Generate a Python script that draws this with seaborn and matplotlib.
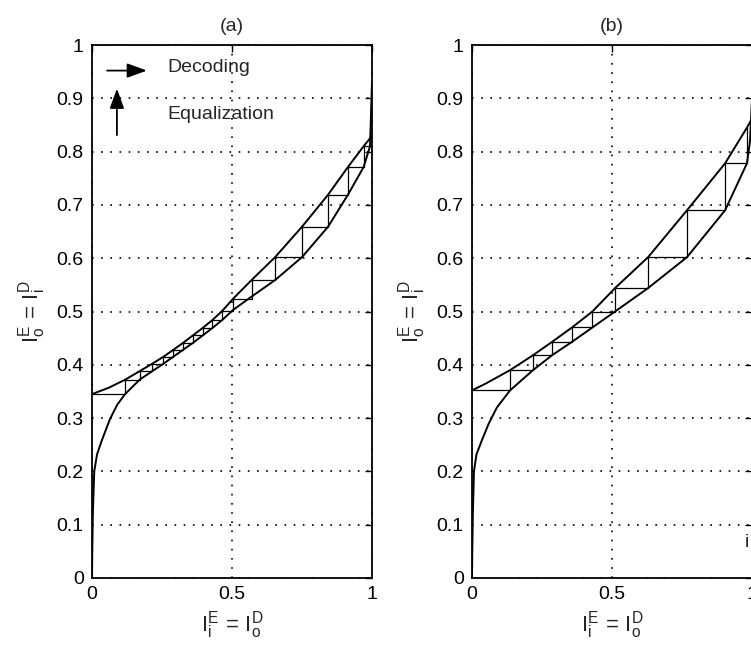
import numpy as np
import pandas as pd
import matplotlib
matplotlib.use("Agg")
import matplotlib.pyplot as plt
import seaborn as sns

# ---------------- data ----------------
# panel (a): equalizer curve (upper) and inverted decoder curve (lower)
upper_a_x = [0.0, 0.06, 0.118, 0.17, 0.215, 0.255, 0.29, 0.325, 0.36, 0.395, 0.43, 0.465, 0.504, 0.57, 0.654, 0.75, 0.843, 0.914, 0.97, 0.993, 1.0]
upper_a_y = [0.345, 0.357, 0.372, 0.388, 0.402, 0.415, 0.428, 0.441, 0.455, 0.469, 0.484, 0.501, 0.524, 0.559, 0.602, 0.659, 0.719, 0.771, 0.81, 0.825, 0.829]
lower_a_x = [0.0, 0.001, 0.003, 0.008, 0.018, 0.035, 0.064, 0.09, 0.118, 0.17, 0.215, 0.255, 0.29, 0.325, 0.36, 0.395, 0.43, 0.465, 0.504, 0.57, 0.654, 0.75, 0.843, 0.914, 0.97, 0.993, 0.997, 1.0]
lower_a_y = [0.0, 0.05, 0.12, 0.2, 0.232, 0.258, 0.298, 0.325, 0.345, 0.372, 0.388, 0.402, 0.415, 0.428, 0.441, 0.455, 0.469, 0.484, 0.503, 0.528, 0.559, 0.602, 0.659, 0.719, 0.771, 0.81, 0.88, 0.93]
# trajectory: x of each vertical step, and the mutual-information level before/after each step
steps_a_x = [0.118, 0.17, 0.215, 0.255, 0.29, 0.325, 0.36, 0.395, 0.43, 0.465, 0.504, 0.57, 0.654, 0.75, 0.843, 0.914, 0.97, 0.993]
levels_a = [0.345, 0.372, 0.388, 0.402, 0.415, 0.428, 0.441, 0.455, 0.469, 0.484, 0.501, 0.524, 0.559, 0.602, 0.659, 0.719, 0.771, 0.81, 0.825]

# panel (b)
upper_b_x = [0.0, 0.05, 0.136, 0.218, 0.286, 0.357, 0.43, 0.511, 0.629, 0.768, 0.904, 0.982, 1.0]
upper_b_y = [0.352, 0.365, 0.39, 0.418, 0.443, 0.47, 0.50, 0.544, 0.602, 0.69, 0.778, 0.845, 0.862]
lower_b_x = [0.0, 0.001, 0.003, 0.007, 0.016, 0.035, 0.06, 0.089, 0.136, 0.218, 0.286, 0.357, 0.43, 0.511, 0.629, 0.768, 0.904, 0.982, 0.993, 1.0]
lower_b_y = [0.0, 0.05, 0.12, 0.2, 0.232, 0.258, 0.29, 0.32, 0.352, 0.39, 0.418, 0.443, 0.47, 0.50, 0.544, 0.602, 0.69, 0.778, 0.82, 0.9]
steps_b_x = [0.136, 0.218, 0.286, 0.357, 0.43, 0.511, 0.629, 0.768, 0.904, 0.982]
levels_b = [0.352, 0.39, 0.418, 0.443, 0.47, 0.50, 0.544, 0.602, 0.69, 0.778, 0.845]

x_ticks = [0, 0.5, 1]
x_tick_labels = ["0", "0.5", "1"]
y_ticks = [0, 0.1, 0.2, 0.3, 0.4, 0.5, 0.6, 0.7, 0.8, 0.9, 1.0]
y_tick_labels = ["0", "0.1", "0.2", "0.3", "0.4", "0.5", "0.6", "0.7", "0.8", "0.9", "1"]
titles = ["(a)", "(b)"]
x_label = r"$\mathrm{I}_{\mathrm{i}}^{\mathrm{E}}\,=\,\mathrm{I}_{\mathrm{o}}^{\mathrm{D}}$"
y_label = r"$\mathrm{I}_{\mathrm{o}}^{\mathrm{E}}\,=\,\mathrm{I}_{\mathrm{i}}^{\mathrm{D}}$"

# ---------------- style ----------------
sns.set_style("white")
plt.rcParams["font.family"] = ["Liberation Sans", "DejaVu Sans"]
plt.rcParams["mathtext.fontset"] = "custom"
plt.rcParams["mathtext.rm"] = "Liberation Sans"
plt.rcParams["mathtext.it"] = "Liberation Sans"
plt.rcParams["mathtext.bf"] = "Liberation Sans:bold"
FS = 14
LFS = 16

fig = plt.figure(figsize=(7.51, 6.46), dpi=100)
W, H = 751.0, 646.0
ax_a = fig.add_axes([92 / W, 68 / H, 280 / W, 533 / H])
ax_b = fig.add_axes([472 / W, 68 / H, 280 / W, 533 / H])


def staircase(xs, levels):
    px, py = [0.0], [levels[0]]
    for k, x in enumerate(xs):
        px += [x, x]
        py += [levels[k], levels[k + 1]]
    return px, py


def draw(ax, ux, uy, lx, ly, sx, sl, title):
    sx_p, sy_p = staircase(sx, sl)
    sns.lineplot(x=sx_p, y=sy_p, ax=ax, color="black", linewidth=0.9,
                 sort=False, estimator=None)
    sns.lineplot(x=ux, y=uy, ax=ax, color="black", linewidth=1.4,
                 sort=False, estimator=None)
    sns.lineplot(x=lx, y=ly, ax=ax, color="black", linewidth=1.4,
                 sort=False, estimator=None)
    ax.set_xlim(0, 1)
    ax.set_ylim(0, 1)
    ax.set_xticks(x_ticks)
    ax.set_xticklabels(x_tick_labels)
    ax.set_yticks(y_ticks)
    ax.set_yticklabels(y_tick_labels)
    ax.tick_params(direction="in", length=5, width=1, top=True, right=True,
                   labelsize=FS, pad=6, colors="black")
    ax.grid(True, color="black", linestyle=(0, (1, 4.5)), linewidth=1.2)
    for s in ax.spines.values():
        s.set_color("black")
        s.set_linewidth(1.3)
        s.set_visible(True)
    ax.set_title(title, fontsize=FS, pad=10)
    ax.set_xlabel(x_label, fontsize=LFS, labelpad=4)
    ax.set_ylabel(y_label, fontsize=LFS, labelpad=6)


draw(ax_a, upper_a_x, upper_a_y, lower_a_x, lower_a_y, steps_a_x, levels_a, titles[0])
draw(ax_b, upper_b_x, upper_b_y, lower_b_x, lower_b_y, steps_b_x, levels_b, titles[1])

# legend-like annotations in panel (a)
ax_a.annotate("", xy=(0.196, 0.952), xytext=(0.054, 0.952),
              arrowprops=dict(arrowstyle="-|>,head_length=0.6,head_width=0.22",
                              color="black", lw=1.3,
                              mutation_scale=20, shrinkA=0, shrinkB=0))
ax_a.annotate("", xy=(0.089, 0.918), xytext=(0.089, 0.831),
              arrowprops=dict(arrowstyle="-|>,head_length=0.6,head_width=0.22",
                              color="black", lw=1.3,
                              mutation_scale=20, shrinkA=0, shrinkB=0))
ax_a.text(0.27, 0.957, "Decoding", fontsize=FS, va="center", ha="left")
ax_a.text(0.27, 0.869, "Equalization", fontsize=FS, va="center", ha="left")

# fragment of cut-off text at the right edge of panel (b)
ax_b.text(0.975, 0.066, "i", fontsize=FS, va="center", ha="left")

fig.savefig("out.png", dpi=100)
